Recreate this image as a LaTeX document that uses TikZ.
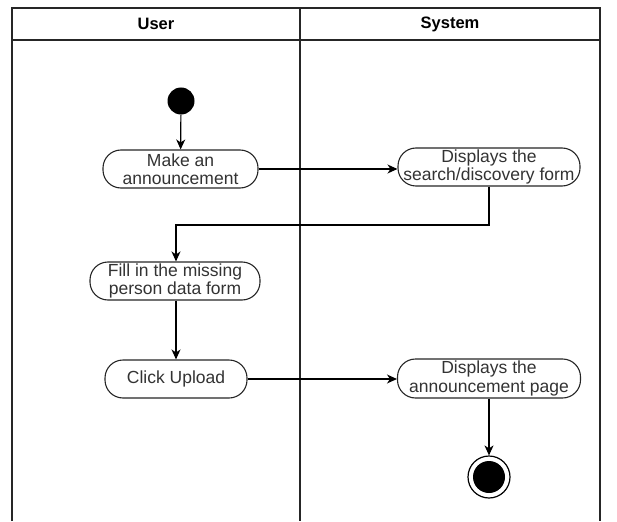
\documentclass[tikz,border=0pt]{standalone}
\usepackage{fontspec}
\setmainfont{Liberation Sans}
\usetikzlibrary{arrows.meta}
\begin{document}
\begin{tikzpicture}[x=1pt,y=-1pt,
  lane/.style={line width=1.1pt,draw=black!85},
  action/.style={draw=black!85,line width=1.1pt,rounded corners=18pt,fill=white,
    inner sep=0pt,align=center,font=\fontsize{17.5}{18.5}\selectfont,text=black!80},
  flow/.style={line width=1.2pt,-{Stealth[length=10pt,width=9pt,inset=3pt]}}]
  \useasboundingbox (0,0) rectangle (617,521);
  % swimlanes
  \draw[lane] (12,521) -- (12,8) -- (600,8) -- (600,521);
  \draw[lane] (12,40) -- (600,40);
  \draw[lane] (300,8) -- (300,521);
  \node[font=\bfseries\fontsize{16.5}{18}\selectfont] (hu) at (156,24) {User};
  \node[font=\bfseries\fontsize{16.5}{18}\selectfont] (hs) at (450,24) {System};
  % initial and final states
  \node[circle,fill=black,minimum size=27pt,inner sep=0pt] (start) at (181,101) {};
  \node[circle,draw,line width=1.2pt,minimum size=42pt,inner sep=0pt] (endo) at (489,477) {};
  \node[circle,fill=black,minimum size=32pt,inner sep=0pt] (endi) at (489,477) {};
  % actions
  \node[action,minimum width=155pt,minimum height=38pt] (make) at (180.5,169) {Make an\\announcement};
  \node[action,minimum width=182pt,minimum height=38pt] (disp1) at (489,167) {Displays the\\search/discovery form};
  \node[action,minimum width=170pt,minimum height=38pt] (fill) at (175,281) {Fill in the missing\\person data form};
  \node[action,minimum width=142pt,minimum height=38pt] (click) at (176,379) {Click Upload};
  \node[action,minimum width=183pt,minimum height=39pt] (disp2) at (489,378.5) {Displays the\\announcement page};
  % flows
  \draw[flow] (start) -- (make);
  \draw[flow] (make) -- (disp1.west |- make);
  \draw[flow] (disp1.south) |- (176,225) -- (fill.north -| 176,0);
  \draw[flow] (fill.south -| 176,0) -- (click.north -| 176,0);
  \draw[flow] (click) -- (disp2.west |- click);
  \draw[flow] (disp2) -- (endo);
\end{tikzpicture}
\end{document}
